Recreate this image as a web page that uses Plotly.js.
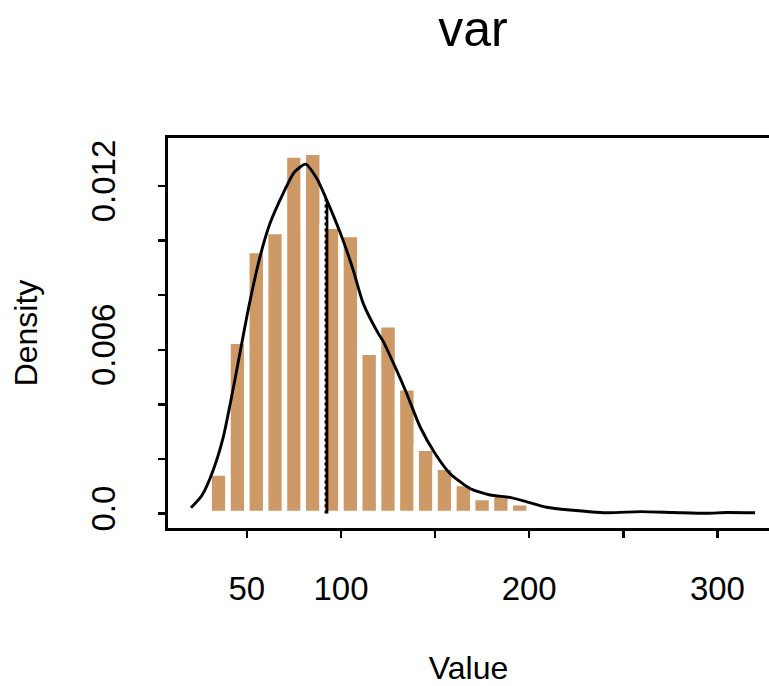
<!DOCTYPE html>
<html>
<head>
<meta charset="utf-8">
<script src="https://cdn.plot.ly/plotly-3.0.1.min.js"></script>
<style>
  html, body { margin: 0; padding: 0; overflow: hidden; background: #ffffff; }
  #chart { width: 769px; height: 686px; }
</style>
</head>
<body>
<div id="chart"></div>
<script>
// Histogram bins (bin centers, width 10) and densities
const binCenters = [35, 45, 55, 65, 75, 85, 95, 105, 115, 125, 135, 145, 155, 165, 175, 185, 195, 205];
const binDensity = [0.00148, 0.00631, 0.00963, 0.01033, 0.01313, 0.01323, 0.01052, 0.01022, 0.00591, 0.00691,
                    0.00461, 0.00239, 0.00169, 0.00110, 0.00059, 0.00070, 0.00039, 0.00011];

// Kernel density curve
const curveX = [20.3, 26.0, 32.1, 37.5, 41.9, 46.3, 50.7, 57.0, 62.3, 69.3, 75.2, 81.2, 87.1, 92.4, 100.4,
                106.5, 111.8, 119.8, 122.5, 128.7, 134.9, 142.0, 149.9, 157.9, 168.5, 179.2, 189.8, 198.7,
                209.3, 221.6, 241.2, 258.9, 276.6, 294.3, 304.9, 320.0];
const curveY = [0.00021, 0.00065, 0.00159, 0.00281, 0.00428, 0.00587, 0.00746, 0.00941, 0.01063, 0.01173,
                0.01250, 0.01280, 0.01228, 0.01149, 0.01014, 0.00892, 0.00770, 0.00660, 0.00630, 0.00538,
                0.00440, 0.00318, 0.00221, 0.00147, 0.00092, 0.00068, 0.00059, 0.00043, 0.00023, 0.00013,
                0.00003, 0.00007, 0.00004, 0.00001, 0.00004, 0.00003];

// Reference lines (mean solid, median dotted)
const meanX = [92.6, 92.6];
const meanY = [0, 0.01145];
const medianX = [91.7, 91.7];
const medianY = [0, 0.01170];

// Axis ticks
const xTickVals = [50, 100, 150, 200, 250, 300];
const xTickText = ['50', '100', '', '200', '', '300'];
const yTickVals = [0, 0.002, 0.004, 0.006, 0.008, 0.010, 0.012];
const yTickText = ['0.0', '', '', '0.006', '', '', '0.012'];

const FONT = 'Liberation Sans, Arial, Helvetica, sans-serif';

const traces = [
  {
    type: 'bar',
    x: binCenters,
    y: binDensity,
    width: 10,
    marker: { color: '#CD9966', line: { color: '#ffffff', width: 5.4 } },
    hoverinfo: 'skip',
    showlegend: false
  },
  {
    type: 'scatter',
    mode: 'lines',
    x: medianX,
    y: medianY,
    line: { color: '#000000', width: 1.5, dash: 'dot' },
    hoverinfo: 'skip',
    showlegend: false
  },
  {
    type: 'scatter',
    mode: 'lines',
    x: meanX,
    y: meanY,
    line: { color: '#000000', width: 2.6 },
    hoverinfo: 'skip',
    showlegend: false
  },
  {
    type: 'scatter',
    mode: 'lines',
    x: curveX,
    y: curveY,
    line: { color: '#000000', width: 2.9, shape: 'spline', smoothing: 0.6 },
    hoverinfo: 'skip',
    showlegend: false
  }
];

const layout = {
  width: 769,
  height: 686,
  margin: { l: 168, r: 0, t: 138, b: 158 },
  paper_bgcolor: '#ffffff',
  plot_bgcolor: '#ffffff',
  font: { family: FONT, color: '#000000', size: 33 },
  bargap: 0,
  title: {
    text: 'var',
    font: { family: FONT, size: 50, color: '#000000' },
    xref: 'paper', x: 0.5075, xanchor: 'center',
    yref: 'container', y: 0.958, yanchor: 'middle'
  },
  xaxis: {
    range: [8.1, 327.4],
    showgrid: false, zeroline: false,
    showline: true, linecolor: '#000000', linewidth: 2.7, mirror: true,
    ticks: 'outside', ticklen: 7, tickwidth: 2.5, tickcolor: '#000000',
    tickmode: 'array', tickvals: xTickVals, ticktext: xTickText,
    tickfont: { family: FONT, size: 33, color: '#000000' },
    ticklabelstandoff: 23,
    title: { text: 'Value', font: { family: FONT, size: 32, color: '#000000' }, standoff: 58 }
  },
  yaxis: {
    range: [-0.000529, 0.013757],
    showgrid: false, zeroline: false,
    showline: true, linecolor: '#000000', linewidth: 2.7, mirror: false,
    ticks: 'outside', ticklen: 7, tickwidth: 2.5, tickcolor: '#000000',
    tickmode: 'array', tickvals: yTickVals, ticktext: yTickText,
    tickangle: -90,
    tickfont: { family: FONT, size: 33, color: '#000000' },
    ticklabelstandoff: 30,
    title: { text: 'Density', font: { family: FONT, size: 32, color: '#000000' }, standoff: 38 }
  }
};

Plotly.newPlot('chart', traces, layout, { displayModeBar: false, staticPlot: true });
</script>
</body>
</html>
